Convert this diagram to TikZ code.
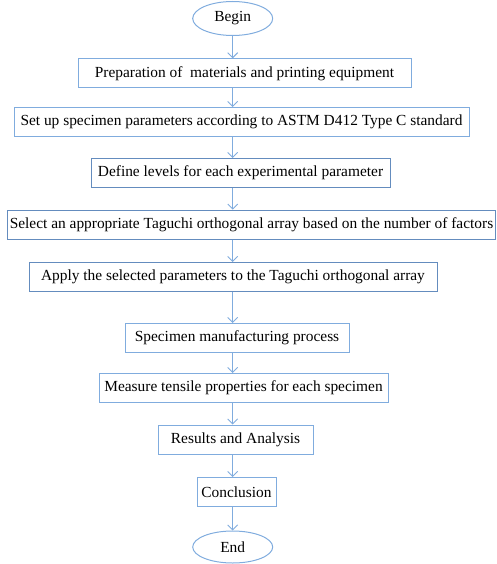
\documentclass[tikz,border=0pt]{standalone}
\usepackage{fontspec}
\setmainfont{Liberation Serif}
\usetikzlibrary{arrows.meta,shapes.geometric,positioning}

\definecolor{lineblue}{RGB}{128,172,222}
\definecolor{edgeblue}{RGB}{100,140,190}

\begin{document}
\begin{tikzpicture}[x=1pt, y=-1pt, >={Straight Barb[length=5pt,width=10pt]},
	every node/.style={font=\fontsize{15.4}{17}\selectfont},
	stepbox/.style={draw=lineblue, line width=1pt, rectangle, minimum height=29pt, inner sep=0pt},
	darkbox/.style={stepbox, draw=edgeblue},
	terminal/.style={draw=lineblue, line width=1pt, ellipse, minimum width=80pt, minimum height=34pt, inner sep=0pt},
	flow/.style={->, draw=lineblue, line width=0.9pt}]
	\useasboundingbox (0,0) rectangle (496,564);
	% Nodes
	\node[terminal] (begin) at (232.7,18.5) {Begin};
	\node[stepbox, minimum width=333pt] (prep) at (244.5,73.3) {Preparation of \ materials and printing equipment};
	\node[stepbox, minimum width=455pt] (setup) at (241.5,122) {Set up specimen parameters according to ASTM D412 Type C standard};
	\node[darkbox, minimum width=299pt] (levels) at (240.5,173) {Define levels for each experimental parameter};
	\node[darkbox, minimum width=488pt] (array) at (251.5,224.7) {Select an appropriate Taguchi orthogonal array based on the number of factors};
	\node[darkbox, minimum width=408pt] (apply) at (233,277) {Apply the selected parameters to the Taguchi orthogonal array};
	\node[stepbox, minimum width=224pt] (manuf) at (237,338) {Specimen manufacturing process};
	\node[stepbox, minimum width=289pt] (measure) at (243.5,388) {Measure tensile properties for each specimen};
	\node[stepbox, minimum width=155pt] (results) at (235.5,439.5) {Results and Analysis};
	\node[stepbox, minimum width=79pt] (concl) at (236.5,492) {Conclusion};
	\node[terminal, minimum height=32pt] (end) at (232.7,547) {End};

	% Arrows
	\draw[flow] (begin) -- (prep.north -| begin);
	\draw[flow] (prep.south -| begin) -- (setup.north -| begin);
	\draw[flow] (setup.south -| begin) -- (levels.north -| begin);
	\draw[flow] (levels.south -| begin) -- (array.north -| begin);
	\draw[flow] (array.south -| begin) -- (apply.north -| begin);
	\draw[flow] (apply.south -| begin) -- (manuf.north -| begin);
	\draw[flow] (manuf.south -| begin) -- (measure.north -| begin);
	\draw[flow] (measure.south -| begin) -- (results.north -| begin);
	\draw[flow] (results.south -| begin) -- (concl.north -| begin);
	\draw[flow] (concl.south -| begin) -- (end);
\end{tikzpicture}
\end{document}
